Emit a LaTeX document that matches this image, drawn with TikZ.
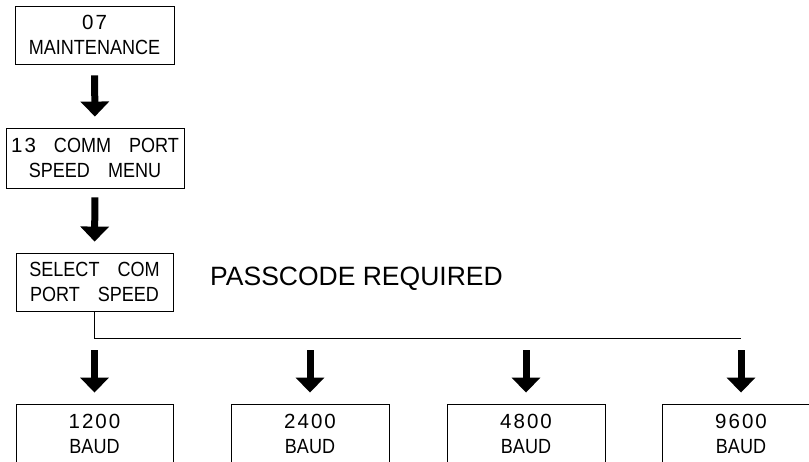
\documentclass[tikz,border=0pt]{standalone}
\usepackage{fontspec}
\setmainfont{Liberation Sans}
\newfontfamily\boxfont[FakeStretch=0.88]{Liberation Sans}
\newfontfamily\digfont[LetterSpace=10]{Liberation Sans}
\newcommand{\wgap}{\hspace{18pt}}
\usetikzlibrary{arrows.meta}
\begin{document}
\begin{tikzpicture}[x=1pt,y=-1pt,
  box/.style={draw,line width=0.9pt,inner sep=0pt,align=center,
    font=\boxfont\fontsize{20.5}{25}\selectfont},
  bigarrow/.style={line width=7pt,-{Triangle[width=28pt,length=15pt]}},
  note/.style={inner sep=0pt,anchor=west,font=\fontsize{26.5}{30}\selectfont}]
\useasboundingbox (0,0) rectangle (809,461);
\clip (0,0) rectangle (809,461);
\node[box,minimum width=159pt,minimum height=58pt] (m) at (94.5,35) {{\digfont 07}\\MAINTENANCE};
\node[box,minimum width=178pt,minimum height=60pt] (c) at (95,158) {{\digfont 13}\wgap COMM\wgap PORT\\SPEED\wgap MENU};
\node[box,minimum width=157pt,minimum height=58pt] (s) at (94.5,282) {SELECT\wgap COM\\PORT\wgap SPEED};
\node[note] (p) at (210,279) {PASSCODE REQUIRED};
\coordinate (busend) at (741,338);
\node[box,minimum width=157pt,minimum height=60pt] (b1) at (94.5,434) {{\digfont 1200}\\BAUD};
\node[box,minimum width=158pt,minimum height=60pt] (b2) at (310,434) {{\digfont 2400}\\BAUD};
\node[box,minimum width=158pt,minimum height=60pt] (b3) at (526,434) {{\digfont 4800}\\BAUD};
\node[box,minimum width=158pt,minimum height=60pt] (b4) at (741,434) {{\digfont 9600}\\BAUD};
\draw[bigarrow,shorten <=11pt,shorten >=11pt] (m.south) -- (c.north);
\draw[bigarrow,shorten <=9pt,shorten >=11pt] (c.south) -- (s.north);
\draw[line width=0.9pt] (s.south) |- (busend);
\foreach \b in {b1,b2,b3,b4}
  \draw[bigarrow,shorten <=12pt,shorten >=11pt] (\b.north |- busend) -- (\b.north);
\end{tikzpicture}
\end{document}
